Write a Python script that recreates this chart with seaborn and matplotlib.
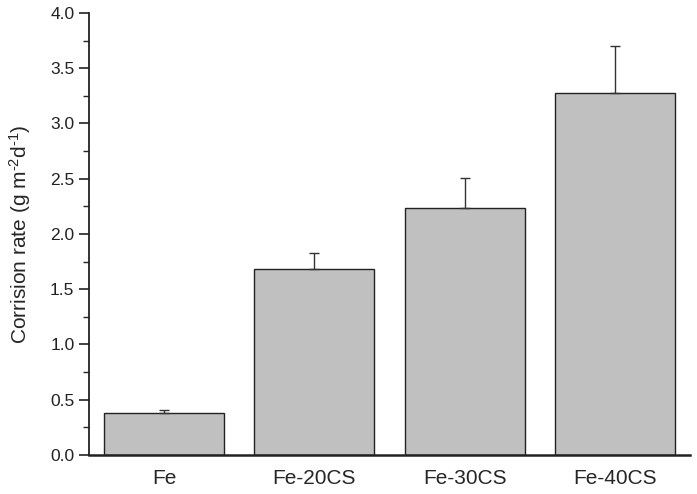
import matplotlib
matplotlib.use("Agg")
import matplotlib.pyplot as plt
import seaborn as sns
import pandas as pd
from matplotlib.ticker import MultipleLocator

categories = ["Fe", "Fe-20CS", "Fe-30CS", "Fe-40CS"]
values = [0.383, 1.685, 2.233, 3.273]
errors = [0.02, 0.14, 0.275, 0.425]
yticks = [0, 0.5, 1.0, 1.5, 2.0, 2.5, 3.0, 3.5, 4.0]

sns.set_theme(style="ticks")
plt.rcParams['font.family'] = ['Liberation Sans', 'DejaVu Sans']
plt.rcParams['mathtext.fontset'] = 'custom'
plt.rcParams['mathtext.rm'] = 'Liberation Sans'
plt.rcParams['mathtext.it'] = 'Liberation Sans'

df = pd.DataFrame({"cat": categories, "val": values})

fig = plt.figure(figsize=(6.97, 4.94), dpi=100)
ax = fig.add_axes([0.1277, 0.079, 0.8623, 0.8947])
sns.barplot(data=df, x="cat", y="val", color="#c0c0c0", saturation=1,
            edgecolor="#222222", linewidth=1.0, width=0.8, ax=ax, errorbar=None)
ax.errorbar(range(len(categories)), values, yerr=[[0]*len(errors), errors],
            fmt="none", ecolor="#333333", elinewidth=1.0, capsize=3.6, capthick=1.0)

ax.set_xlim(-0.5, 3.5)
ax.set_ylim(0, 4.0)
ax.yaxis.set_minor_locator(MultipleLocator(0.25))
ax.set_yticks(yticks)
ax.set_yticklabels([f"{v:.1f}" for v in yticks])
ax.tick_params(axis='y', which='major', direction='out', length=7, width=1.2, labelsize=12.5, colors='#222222')
ax.tick_params(axis='y', which='minor', direction='out', length=4.5, width=1.0)
ax.tick_params(axis='x', length=0, labelsize=15, pad=10)
ax.set_xlabel("")
ax.set_ylabel(r"Corrision rate (g m$^{\text{-2}}$d$^{\text{-1}}$)", fontsize=15, labelpad=12)
for s in ["top", "right"]:
    ax.spines[s].set_visible(False)
ax.spines["left"].set_linewidth(1.3)
ax.spines["bottom"].set_linewidth(1.8)
ax.spines["left"].set_color("#222222")
ax.spines["bottom"].set_color("#222222")

fig.savefig("out.png", dpi=100)
